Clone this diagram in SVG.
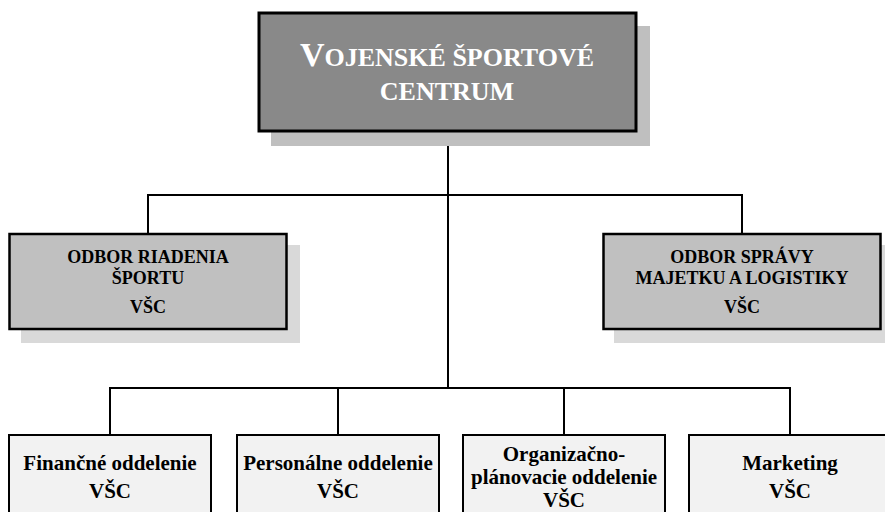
<svg xmlns="http://www.w3.org/2000/svg" width="885" height="512" viewBox="0 0 885 512">
<style>
.t{font-family:"Liberation Serif","Times New Roman",serif;font-weight:bold;text-anchor:middle}
.l2{font-size:18px;fill:#000}
.l3{font-size:21px;fill:#000}
.title{fill:#fff}
.conn{fill:none;stroke:#000;stroke-width:2}
</style>
<rect width="885" height="512" fill="#fff"/>
<g id="connectors">
<path class="conn" d="M448 131 V388"/>
<path class="conn" d="M148 234 V195 H742 V234"/>
<path class="conn" d="M110 435 V388 H790 V435"/>
<path class="conn" d="M338 388 V435 M564 388 V435"/>
</g>
<g id="top">
<rect x="271" y="26" width="379" height="120" fill="#bfbfbf"/>
<rect x="259" y="13" width="377" height="118" fill="#898989" stroke="#000" stroke-width="3"/>
<text class="t title" x="447" y="66"><tspan font-size="34">V</tspan><tspan font-size="26">OJENSKÉ ŠPORTOVÉ</tspan></text>
<text class="t title" x="447" y="100" font-size="26">CENTRUM</text>
</g>
<g id="odbor-riadenia">
<rect x="21" y="245" width="279" height="98" fill="#d9d9d9"/>
<rect x="9.5" y="234" width="277" height="95" fill="#c0c0c0" stroke="#000" stroke-width="2.5"/>
<text class="t l2" x="148" y="263">ODBOR RIADENIA</text>
<text class="t l2" x="148" y="284">ŠPORTU</text>
<text class="t l2" x="148" y="313">VŠC</text>
</g>
<g id="odbor-spravy">
<rect x="614" y="245" width="280" height="98" fill="#d9d9d9"/>
<rect x="603.5" y="234" width="277" height="95" fill="#c0c0c0" stroke="#000" stroke-width="2.5"/>
<text class="t l2" x="742" y="263">ODBOR SPRÁVY</text>
<text class="t l2" x="742" y="284">MAJETKU A LOGISTIKY</text>
<text class="t l2" x="742" y="313">VŠC</text>
</g>
<g id="financne">
<rect x="9" y="435" width="202" height="100" fill="#f2f2f2" stroke="#000" stroke-width="2"/>
<text class="t l3" x="110" y="470">Finančné oddelenie</text>
<text class="t l3" x="110" y="498">VŠC</text>
</g>
<g id="personalne">
<rect x="237" y="435" width="202" height="100" fill="#f2f2f2" stroke="#000" stroke-width="2"/>
<text class="t l3" x="338" y="470">Personálne oddelenie</text>
<text class="t l3" x="338" y="498">VŠC</text>
</g>
<g id="organizacno">
<rect x="463" y="435" width="202" height="100" fill="#f2f2f2" stroke="#000" stroke-width="2"/>
<text class="t l3" x="564" y="461">Organizačno-</text>
<text class="t l3" x="564" y="484">plánovacie oddelenie</text>
<text class="t l3" x="564" y="507">VŠC</text>
</g>
<g id="marketing">
<rect x="689" y="435" width="202" height="100" fill="#f2f2f2" stroke="#000" stroke-width="2"/>
<text class="t l3" x="790" y="470">Marketing</text>
<text class="t l3" x="790" y="498">VŠC</text>
</g>
</svg>
